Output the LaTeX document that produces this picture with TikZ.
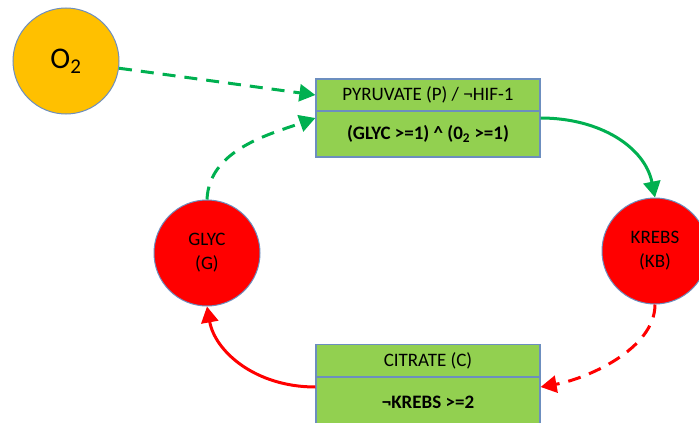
\documentclass[tikz,border=0pt]{standalone}
\usepackage{fontspec}
\setmainfont{Carlito}
\usetikzlibrary{arrows.meta}
\definecolor{boxgreen}{HTML}{92D050}
\definecolor{arrgreen}{HTML}{00B050}
\definecolor{edgeblue}{HTML}{6C8EBF}
\definecolor{ogold}{HTML}{FFC000}
\tikzset{
  state/.style={circle, draw=edgeblue, line width=1pt, minimum size=106pt, inner sep=0pt, align=center, font=\fontsize{19}{24}\selectfont},
  title/.style={rectangle, draw=edgeblue, line width=1.2pt, fill=boxgreen, minimum width=224pt, minimum height=32pt, inner sep=0pt, font=\fontsize{19}{22}\selectfont},
  cond/.style={title, minimum height=46pt, font=\fontsize{19}{22}\selectfont\bfseries},
  link/.style={line width=3pt, -{Triangle[length=16pt,width=17pt]}},
  weak/.style={link, dash pattern=on 13pt off 9pt},
}
\begin{document}
\begin{tikzpicture}[x=1pt, y=-1pt]
        \clip (0,0) rectangle (699,423);

        \node[state, fill=ogold, font=\fontsize{30}{30}\selectfont] (O) at (66, 61) {O\textsubscript{2}};
        \node[state, fill=red] (G) at (207, 253) {GLYC\\(G)};
        \node[state, fill=red] (KB) at (655, 251) {KREBS\\(KB)};

        \node[title] (P) at (428, 95) {PYRUVATE (P) / ¬HIF-1};
        \node[cond] (Pc) at (428, 134) {(GLYC >=1) \textasciicircum{} (0\textsubscript{2} >=1)};

        \node[title] (C) at (428, 360.5) {CITRATE (C)};
        \node[cond, minimum height=50pt] (Cc) at (428, 402) {¬KREBS >=2};

        \draw[weak, arrgreen] (O) -- (P.west);
        \draw[weak, arrgreen] (G.north) .. controls +(2,-50) and +(-45,16) .. ([yshift=16pt]Pc.west);
        \draw[link, arrgreen] ([yshift=16pt]Pc.east) .. controls +(60,0) and +(-10,-50) .. (KB.north);
        \draw[weak, red] (KB.south) .. controls +(0,45) and +(45,-8) .. ([yshift=15pt]Cc.east);
        \draw[link, red] ([yshift=15pt]Cc.west) .. controls +(-60,0) and +(8,45) .. (G.south);
    \end{tikzpicture}
\end{document}
